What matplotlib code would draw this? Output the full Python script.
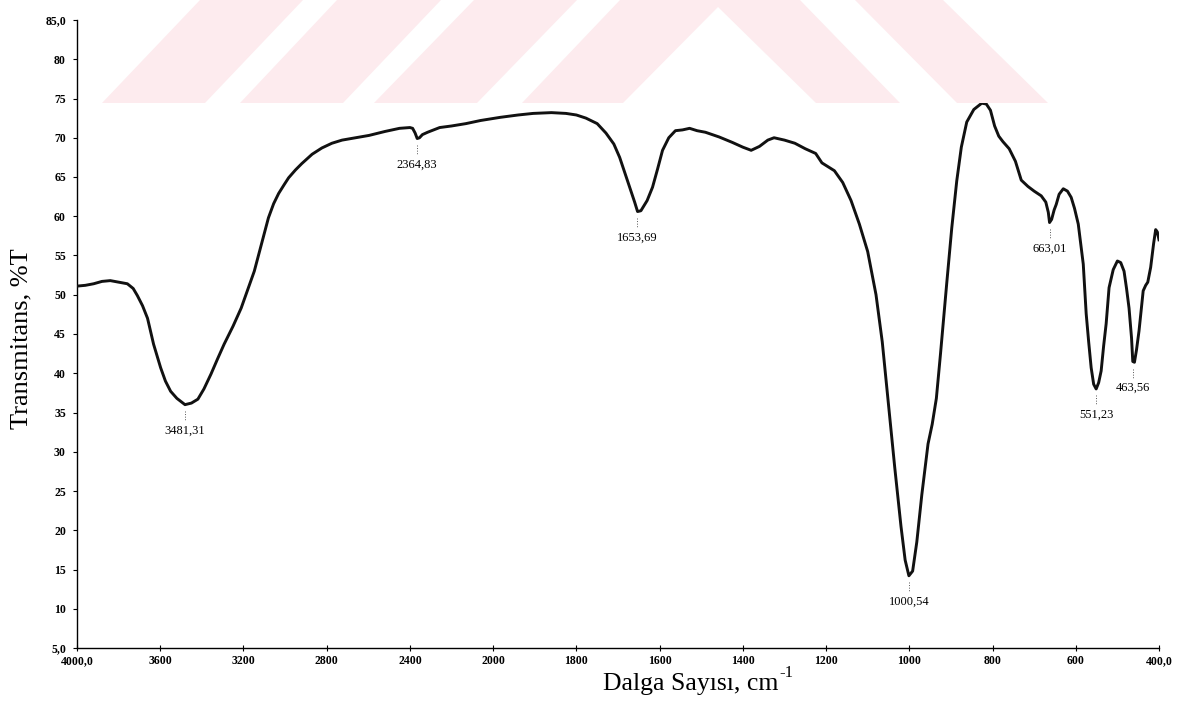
import numpy as np
import matplotlib
matplotlib.use("Agg")
import matplotlib.pyplot as plt
from matplotlib.patches import Polygon

plt.rcParams['font.family'] = ['Liberation Serif', 'DejaVu Serif']

# ---- data ----
wavenumber = [4000, 3960, 3920, 3880, 3840, 3800, 3758, 3730, 3710, 3685, 3661, 3632,
              3598, 3575, 3550, 3520, 3481, 3450, 3419, 3390, 3356, 3325, 3293, 3250,
              3211, 3180, 3148, 3123, 3100, 3080, 3055, 3031, 3005, 2983, 2950, 2920,
              2870, 2823, 2775, 2726, 2660, 2596, 2520, 2450, 2400, 2387, 2375, 2365,
              2354, 2340, 2315, 2257, 2200, 2131, 2060, 1983, 1940, 1904, 1860, 1825,
              1800, 1777, 1750, 1729, 1710, 1696, 1684, 1672, 1660, 1653, 1645, 1630,
              1617, 1605, 1593, 1578, 1562, 1545, 1528, 1510, 1490, 1457, 1425, 1400,
              1380, 1360, 1340, 1325, 1300, 1275, 1250, 1225, 1210, 1180, 1160, 1140,
              1120, 1100, 1080, 1065, 1050, 1035, 1020, 1010, 1001, 992, 982, 970,
              955, 945, 935, 925, 910, 898, 886, 875, 862, 845, 826, 815, 805, 795,
              785, 775, 760, 745, 731, 715, 700, 683, 672, 666, 663, 658, 652, 647,
              640, 630, 620, 611, 603, 594, 588, 582, 575, 569, 563, 557, 551, 545,
              539, 533, 527, 520, 510, 500, 492, 484, 478, 472, 466, 463, 459, 454,
              448, 443, 438, 432, 427, 420, 413, 408, 404, 400]
transmittance = [51.1, 51.2, 51.4, 51.7, 51.8, 51.6, 51.4, 50.8, 49.9, 48.6, 47.0, 43.7,
                 40.7, 39.0, 37.7, 36.8, 36.0, 36.2, 36.7, 38.0, 39.9, 41.8, 43.7, 46.0,
                 48.3, 50.6, 53.0, 55.5, 57.8, 59.8, 61.6, 62.9, 64.0, 64.9, 65.9, 66.7,
                 67.9, 68.7, 69.3, 69.7, 70.0, 70.3, 70.8, 71.2, 71.3, 71.2, 70.6, 69.9,
                 70.0, 70.4, 70.7, 71.3, 71.5, 71.8, 72.2, 72.6, 72.9, 73.1, 73.2, 73.1,
                 72.9, 72.5, 71.8, 70.6, 69.2, 67.5, 65.6, 63.7, 61.8, 60.6, 60.7, 62.0,
                 63.7, 66.0, 68.4, 70.0, 70.9, 71.0, 71.2, 70.9, 70.7, 70.1, 69.4, 68.8,
                 68.4, 68.9, 69.7, 70.0, 69.7, 69.3, 68.6, 68.0, 66.8, 65.8, 64.3, 62.0,
                 59.0, 55.5, 50.0, 44.0, 36.0, 28.0, 20.5, 16.2, 14.2, 14.8, 18.5, 24.5,
                 31.0, 33.5, 36.8, 42.5, 51.5, 58.5, 64.5, 68.8, 72.0, 73.6, 74.4, 74.3,
                 73.5, 71.5, 70.2, 69.5, 68.6, 67.0, 64.6, 63.8, 63.2, 62.6, 61.8, 60.5,
                 59.2, 59.6, 60.8, 61.5, 62.8, 63.5, 63.2, 62.4, 61.0, 59.0, 56.5, 53.9,
                 47.6, 44.0, 40.7, 38.6, 38.0, 38.8, 40.3, 43.5, 46.3, 50.9, 53.2, 54.3,
                 54.1, 53.0, 50.8, 48.3, 44.5, 41.5, 41.4, 43.0, 45.4, 48.0, 50.5, 51.2,
                 51.6, 53.5, 56.5, 58.3, 58.0, 57.0]

peak_positions = [3481.31, 2364.83, 1653.69, 1000.54, 663.01, 551.23, 463.56]
peak_values = [36.0, 69.9, 60.6, 14.2, 59.2, 38.0, 41.4]
peak_labels = ["3481,31", "2364,83", "1653,69", "1000,54", "663,01", "551,23", "463,56"]

xtick_values = [4000, 3600, 3200, 2800, 2400, 2000, 1800, 1600, 1400, 1200, 1000, 800, 600, 400]
xtick_labels = ["4000,0", "3600", "3200", "2800", "2400", "2000", "1800", "1600",
                "1400", "1200", "1000", "800", "600", "400,0"]
ytick_values = [5, 10, 15, 20, 25, 30, 35, 40, 45, 50, 55, 60, 65, 70, 75, 80, 85]
ytick_labels = ["5,0", "10", "15", "20", "25", "30", "35", "40", "45", "50", "55",
                "60", "65", "70", "75", "80", "85,0"]

# ---- figure ----
W, H = 1186, 711
fig = plt.figure(figsize=(W / 100, H / 100), dpi=100)

# background watermark (pixel coordinates of the decoration)
wm_color = '#fdebee'
wm_shapes = [
    [(102, 103), (205, 103), (303, 0), (200, 0)],
    [(240, 103), (343, 103), (441, 0), (337, 0)],
    [(374, 103), (477, 103), (577, 0), (474, 0)],
    [(522, 103), (620, 0), (800, 0), (900, 103), (816, 103), (718, 7), (623, 103)],
    [(957, 103), (1048, 103), (943, 0), (855, 0)],
]
for shp in wm_shapes:
    pts = [(x / W, 1 - y / H) for x, y in shp]
    fig.patches.append(Polygon(pts, closed=True, transform=fig.transFigure,
                               facecolor=wm_color, edgecolor='none', zorder=0))

left, right, top, bottom = 77, 1159, 20, 648
ax = fig.add_axes([left / W, 1 - bottom / H, (right - left) / W, (bottom - top) / H])
ax.patch.set_alpha(0)


def fwd(x):
    x = np.asarray(x, dtype=float)
    return np.where(x > 2000, 2000 + (x - 2000) / 2.0, x)


def inv(t):
    t = np.asarray(t, dtype=float)
    return np.where(t > 2000, 2000 + (t - 2000) * 2.0, t)


ax.set_xscale('function', functions=(fwd, inv))
ax.plot(wavenumber, transmittance, color='#111111', lw=2.1, solid_joinstyle='round', zorder=3)
ax.set_xlim(4000, 400)
ax.set_ylim(5, 85)

ax.set_xticks(xtick_values)
ax.set_xticklabels(xtick_labels)
ax.set_yticks(ytick_values)
ax.set_yticklabels(ytick_labels)
ax.minorticks_off()
for lab in ax.get_xticklabels() + ax.get_yticklabels():
    lab.set_fontweight('bold')
    lab.set_fontsize(8.5)
ax.tick_params(axis='x', direction='inout', length=4, width=0.8, pad=3)
ax.tick_params(axis='y', direction='out', length=3, width=0.8, pad=5)

for s in ['top', 'right']:
    ax.spines[s].set_visible(False)
for s in ['left', 'bottom']:
    ax.spines[s].set_linewidth(1.0)

label_offset = 3.3
for pos, val, txt in zip(peak_positions, peak_values, peak_labels):
    ax.plot([pos, pos], [val - 0.8, val - 2.0], ls=':', color='#555555', lw=0.7, zorder=2)
    ax.text(pos, val - label_offset, txt, ha='center', va='center', fontsize=9, zorder=4)

fig.text(21 / W, 1 - 339 / H, "Transmitans, %T", rotation=90, ha='center', va='center',
         fontsize=19)

# x-axis title with a separate superscript
xl = fig.text(603 / W, 1 - 690 / H, "Dalga Sayısı, cm", ha='left', va='baseline',
              fontsize=18.5)
renderer = fig.canvas.get_renderer()
bb = xl.get_window_extent(renderer=renderer)
fig.text((bb.x1 + 1) / W, 1 - 677 / H, "-1", ha='left', va='baseline', fontsize=12)

fig.savefig("out.png", dpi=100)
